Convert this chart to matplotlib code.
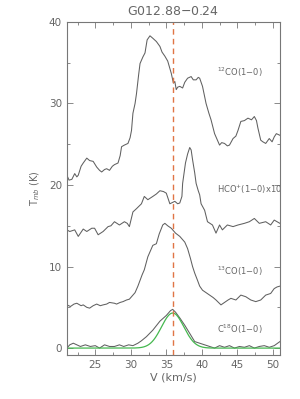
import numpy as np
import matplotlib
matplotlib.use("Agg")
import matplotlib.pyplot as plt
from matplotlib.ticker import MultipleLocator

# ---- data ----
co12_v = [21.0,21.3,21.7,22.1,22.4,22.6,23.0,23.3,23.8,24.2,24.7,25.2,25.6,25.9,26.3,26.6,27.0,27.4,27.7,28.2,
          28.5,28.7,29.1,29.6,29.9,30.1,30.3,30.6,30.8,31.1,31.3,31.7,32.0,32.3,32.7,33.1,33.6,34.1,34.4,34.8,
          35.2,35.7,36.0,36.2,36.4,36.6,36.9,37.3,37.6,38.0,38.5,38.8,39.2,39.5,39.7,40.1,40.6,41.0,41.3,41.8,
          42.2,42.5,42.8,43.2,43.6,43.9,44.4,44.8,45.1,45.5,46.0,46.5,47.0,47.4,47.7,47.9,48.3,48.6,49.0,49.5,
          49.9,50.2,50.5,51.0]
co12_t = [21.2,20.6,20.7,21.4,21.0,21.2,22.3,22.7,23.3,23.0,22.9,22.2,21.8,21.6,21.9,22.0,21.8,22.3,22.5,22.7,
          23.6,24.7,24.9,25.1,25.8,26.7,28.8,30.0,31.2,33.5,34.9,35.7,36.2,37.8,38.3,38.0,37.6,37.0,36.3,35.8,
          35.2,33.7,32.5,32.7,31.7,32.0,32.1,31.9,32.6,33.1,33.3,32.9,32.9,33.2,33.1,32.1,30.0,28.8,28.0,26.3,
          25.5,24.9,25.2,25.1,24.8,24.9,25.7,26.0,26.7,27.8,27.9,28.2,28.0,28.4,27.9,27.0,25.5,25.3,25.1,25.7,
          25.3,25.9,26.3,26.1]

hco_v = [21.0,21.4,22.1,22.6,23.3,23.8,24.5,24.9,25.4,26.1,26.8,27.2,27.7,28.4,29.1,29.5,29.8,30.3,30.8,31.5,
         31.9,32.4,33.1,33.6,34.1,34.6,35.0,35.5,36.2,36.6,36.9,37.2,37.3,37.7,38.0,38.3,38.5,38.7,39.0,39.2,
         39.5,39.7,39.9,40.4,40.8,41.5,42.0,42.5,42.9,43.6,44.4,45.1,46.0,46.7,47.4,48.1,49.0,49.7,50.2,51.0]
hco_t = [14.5,14.3,14.5,13.7,14.6,14.3,14.7,14.7,13.9,14.3,14.9,15.0,15.5,15.1,15.5,15.3,14.9,16.7,17.1,17.7,
         18.6,18.2,18.6,18.9,19.3,19.2,19.0,17.7,18.0,17.7,17.8,18.6,20.2,22.7,23.8,24.6,24.3,23.1,21.5,20.2,
         19.3,18.8,17.7,16.9,15.5,15.1,14.1,15.1,14.5,15.1,14.9,15.1,15.3,15.5,15.9,15.3,15.5,15.1,15.7,15.3]

co13_v = [21.0,21.5,22.0,22.4,23.0,23.3,23.8,24.2,24.7,25.2,25.7,26.1,26.6,27.0,27.7,28.0,28.5,28.9,29.4,29.8,
          30.3,30.6,31.0,31.3,31.6,31.9,32.4,33.1,33.6,34.0,34.5,34.8,35.2,35.7,36.3,36.9,37.6,38.0,38.4,38.7,
          39.0,39.4,39.7,40.1,40.6,41.1,41.6,42.0,42.7,43.2,43.7,44.1,44.8,45.5,46.2,46.9,47.6,48.3,49.0,49.7,
          50.2,50.6,51.0]
co13_t = [5.3,5.1,5.4,5.5,5.2,5.3,5.0,4.9,5.2,5.4,5.2,5.3,5.4,5.6,5.5,5.4,5.6,5.7,5.9,6.0,
          6.5,6.8,7.6,8.3,9.0,9.6,11.2,12.6,12.8,14.0,15.1,15.3,15.0,14.7,14.1,13.7,13.0,12.2,11.0,10.0,
          9.2,8.3,7.6,7.1,6.8,6.5,6.2,5.9,5.3,5.6,5.9,6.1,5.9,6.5,6.3,5.9,5.7,5.9,6.5,6.7,
          7.3,7.5,7.6]

c18o_v = [21.0,21.4,21.9,22.4,22.9,23.6,24.3,25.0,25.6,26.3,27.0,27.7,28.4,29.0,29.7,30.3,31.0,31.5,32.2,33.1,
          34.1,35.0,35.6,35.9,36.3,36.9,37.6,38.3,39.0,39.7,40.4,41.1,41.8,42.5,43.2,43.9,44.6,45.3,46.0,46.7,
          47.4,48.1,48.8,49.5,50.2,51.0]
c18o_t = [0.0,0.4,0.6,0.4,0.2,0.4,0.2,0.3,0.0,0.4,0.2,0.2,0.4,0.2,0.4,0.3,0.6,0.9,1.4,2.2,
          3.3,4.0,4.6,4.75,4.4,3.7,2.8,1.8,0.8,0.6,0.4,0.2,0.0,0.3,0.1,0.3,0.0,0.2,0.1,0.3,
          0.0,0.2,0.3,0.1,0.3,0.8]

# Gaussian fit parameters for C18O
fit_amp = 4.3
fit_center = 35.9
fit_fwhm = 3.7
v_sys = 35.9

labels = ["$^{12}$CO(1$-$0)", "HCO$^{+}$(1$-$0)x10$^{-1}$", "$^{13}$CO(1$-$0)", "C$^{18}$O(1$-$0)"]
label_y = [33.8, 19.5, 9.4, 2.3]

title = "G012.88$-$0.24"

# ---- figure ----
fig = plt.figure(figsize=(3.0, 3.99), dpi=100)
ax = fig.add_axes([0.223, 0.110, 0.710, 0.835])

gray = "#606060"
for v, t in [(co12_v, co12_t), (hco_v, hco_t), (co13_v, co13_t), (c18o_v, c18o_t)]:
    ax.plot(v, t, color=gray, lw=0.75)

vv = np.linspace(21, 51, 400)
sig = fit_fwhm / (2 * np.sqrt(2 * np.log(2)))
ax.plot(vv, fit_amp * np.exp(-0.5 * ((vv - fit_center) / sig) ** 2), color="#45b84f", lw=0.9)

ax.axvline(v_sys, color="#e07545", lw=1.0, ls=(0, (4, 3)))

for lab, ly in zip(labels, label_y):
    ax.text(42.1, ly, lab, fontsize=6, color="#666666", ha="left", va="center", clip_on=True)

ax.set_xlim(21, 51)
ax.set_ylim(-0.86, 40)
ax.xaxis.set_major_locator(MultipleLocator(5))
ax.xaxis.set_minor_locator(MultipleLocator(2.5))
ax.yaxis.set_major_locator(MultipleLocator(10))
ax.yaxis.set_minor_locator(MultipleLocator(5))
ax.tick_params(which="both", direction="in", top=True, right=True, color="#777777",
               labelcolor="#666666", labelsize=7.5)
ax.tick_params(which="major", length=4, width=0.6)
ax.tick_params(which="minor", length=2.5, width=0.6)
for s in ax.spines.values():
    s.set_color("#777777")
    s.set_linewidth(0.8)

ax.set_xlabel("V (km/s)", fontsize=8, color="#666666", labelpad=2)
ax.set_ylabel("T$_{mb}$ (K)", fontsize=7, color="#666666", labelpad=5)
ax.set_title(title, fontsize=9, color="#666666", pad=5)

fig.savefig("out.png", dpi=100)
